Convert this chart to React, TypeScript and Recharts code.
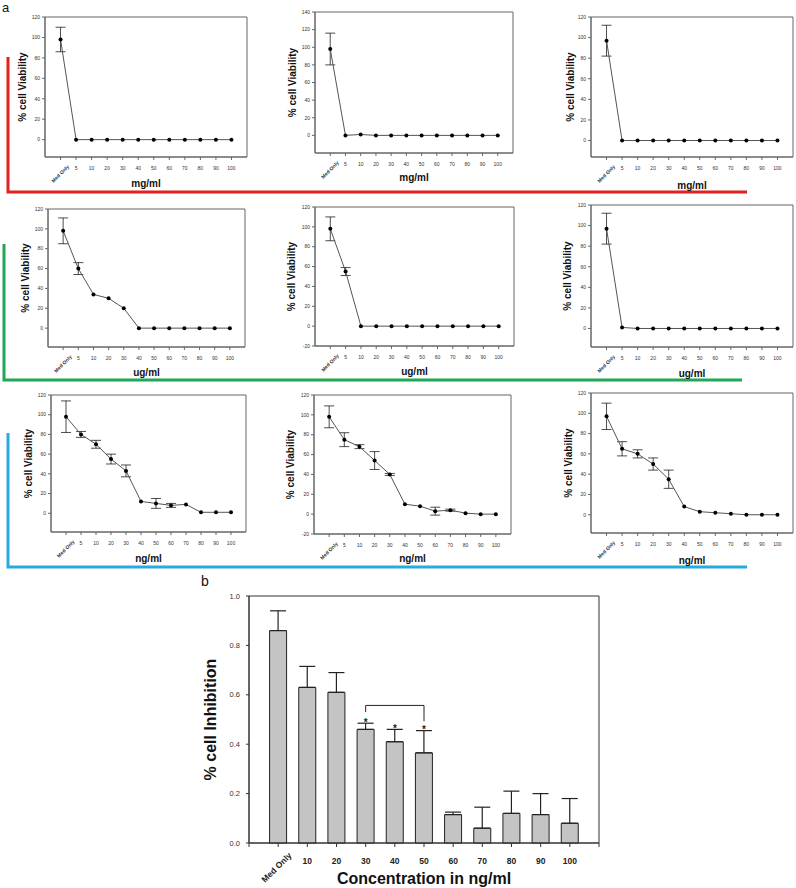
import { ComposedChart, LineChart, Line, Bar, XAxis, YAxis, ErrorBar, ReferenceArea, ReferenceLine, ReferenceDot, Label } from "recharts";

// ---- panel a: % cell viability, 12 concentrations each ----
const lineCats = ["Med Only", "5", "10", "20", "30", "40", "50", "60", "70", "80", "90", "100"];

const mg1Vals = [98, 0, 0, 0, 0, 0, 0, 0, 0, 0, 0, 0];
const mg1Err = [12, 0, 0, 0, 0, 0, 0, 0, 0, 0, 0, 0];
const mg2Vals = [98, 0, 1, 0, 0, 0, 0, 0, 0, 0, 0, 0];
const mg2Err = [18, 0, 0, 0, 0, 0, 0, 0, 0, 0, 0, 0];
const mg3Vals = [97, 0, 0, 0, 0, 0, 0, 0, 0, 0, 0, 0];
const mg3Err = [15, 0, 0, 0, 0, 0, 0, 0, 0, 0, 0, 0];

const ug1Vals = [98, 60, 34, 30, 20, 0, 0, 0, 0, 0, 0, 0];
const ug1Err = [13, 6, 0, 0, 0, 0, 0, 0, 0, 0, 0, 0];
const ug2Vals = [98, 55, 0, 0, 0, 0, 0, 0, 0, 0, 0, 0];
const ug2Err = [12, 4, 0, 0, 0, 0, 0, 0, 0, 0, 0, 0];
const ug3Vals = [97, 1, 0, 0, 0, 0, 0, 0, 0, 0, 0, 0];
const ug3Err = [15, 0, 0, 0, 0, 0, 0, 0, 0, 0, 0, 0];

const ng1Vals = [98, 80, 70, 55, 43, 12, 10, 8, 9, 1, 1, 1];
const ng1Err = [16, 3, 4, 5, 6, 0, 5, 2, 0, 0, 0, 0];
const ng2Vals = [98, 75, 68, 54, 40, 10, 8, 3, 4, 1, 0, 0];
const ng2Err = [11, 7, 2, 9, 1, 0, 0, 4, 1, 0, 0, 0];
const ng3Vals = [97, 65, 60, 50, 35, 8, 3, 2, 1, 0, 0, 0];
const ng3Err = [13, 7, 4, 6, 9, 0, 0, 0, 0, 0, 0, 0];

const ticks120 = [0, 20, 40, 60, 80, 100, 120];
const ticks140 = [0, 20, 40, 60, 80, 100, 120, 140];
const ticksNeg = [-20, 0, 20, 40, 60, 80, 100, 120];

// ---- panel b: % cell inhibition ----
const barCats = ["Med Only", "10", "20", "30", "40", "50", "60", "70", "80", "90", "100"];
const barVals = [0.86, 0.63, 0.61, 0.46, 0.41, 0.365, 0.115, 0.06, 0.12, 0.115, 0.08];
const barErr = [0.08, 0.085, 0.08, 0.025, 0.05, 0.09, 0.01, 0.085, 0.09, 0.085, 0.1];
const starIdx = [3, 4, 5];
const bracket = { from: 3, to: 5, top: 0.557, leftEnd: 0.53, rightEnd: 0.493 };

type Panel = {
  vals: number[];
  errs: number[];
  unit: string;
  yMin: number;
  yMax: number;
  yTicks: number[];
  // frame box and label placement
  L: number; T: number; R: number; B: number;
  labX: number; labY: number;
};

const panels: Panel[] = [
  { vals: mg1Vals, errs: mg1Err, unit: "mg/ml", yMin: -17, yMax: 120, yTicks: ticks120, L: 45, T: 17, R: 247, B: 157, labX: 22, labY: 183 },
  { vals: mg2Vals, errs: mg2Err, unit: "mg/ml", yMin: -20, yMax: 140, yTicks: ticks140, L: 315, T: 12, R: 513, B: 153, labX: 292, labY: 177 },
  { vals: mg3Vals, errs: mg3Err, unit: "mg/ml", yMin: -16, yMax: 120, yTicks: ticks120, L: 591, T: 17, R: 793, B: 157, labX: 570, labY: 185 },
  { vals: ug1Vals, errs: ug1Err, unit: "ug/ml", yMin: -19, yMax: 120, yTicks: ticks120, L: 48, T: 209, R: 245, B: 347, labX: 25, labY: 372 },
  { vals: ug2Vals, errs: ug2Err, unit: "ug/ml", yMin: -20, yMax: 120, yTicks: ticksNeg, L: 315, T: 207, R: 514, B: 346, labX: 291, labY: 371 },
  { vals: ug3Vals, errs: ug3Err, unit: "ug/ml", yMin: -18, yMax: 120, yTicks: ticks120, L: 591, T: 205, R: 793, B: 347, labX: 567, labY: 373 },
  { vals: ng1Vals, errs: ng1Err, unit: "ng/ml", yMin: -19, yMax: 120, yTicks: ticks120, L: 51, T: 395, R: 246, B: 532, labX: 28, labY: 558 },
  { vals: ng2Vals, errs: ng2Err, unit: "ng/ml", yMin: -20, yMax: 120, yTicks: ticksNeg, L: 314, T: 395, R: 511, B: 534, labX: 290, labY: 558 },
  { vals: ng3Vals, errs: ng3Err, unit: "ng/ml", yMin: -18, yMax: 120, yTicks: ticks120, L: 591, T: 393, R: 793, B: 533, labX: 568, labY: 560 },
];

const lineIdx = lineCats.map((_, i) => i);
const FONT = "'Liberation Sans', Arial, sans-serif";

function LineTick(props: any) {
  const { x, y, payload } = props;
  const i = payload.value;
  if (i === 0) {
    const ax = x + 9;
    const ay = y + 5;
    return (
      <text x={ax} y={ay} textAnchor="end" fontSize={5} fontWeight="bold" fill="#333" fontFamily={FONT} transform={`rotate(-45 ${ax} ${ay})`}>
        {lineCats[i]}
      </text>
    );
  }
  return (
    <text x={x} y={y + 8} textAnchor="middle" fontSize={5} fill="#333" fontFamily={FONT}>
      {lineCats[i]}
    </text>
  );
}

function ViabilityPanel({ p }: { p: Panel }) {
  const left = p.labX - 8;
  const top = p.T - 4;
  const W = p.L - left;
  const xH = p.labY + 3.5 - p.B;
  const width = p.R - left + 4;
  const height = p.labY + 3.5 - top + 3;
  const data = p.vals.map((v, i) => ({ i, v, e: p.errs[i] }));
  return (
    <div style={{ position: "absolute", left, top }}>
      <LineChart width={width} height={height} data={data} margin={{ top: 4, right: 4, left: 0, bottom: 3 }}>
        <ReferenceArea x1={-1} x2={12} y1={p.yMin} y2={p.yMax} fill="none" stroke="#666" strokeWidth={1} ifOverflow="visible" />
        <XAxis
          dataKey="i"
          type="number"
          domain={[-1, 12]}
          ticks={lineIdx}
          interval={0}
          tick={<LineTick />}
          tickSize={3}
          height={xH}
          axisLine={{ stroke: "#666" }}
          tickLine={{ stroke: "#666" }}
        >
          <Label value={p.unit} position="insideBottom" offset={0} style={{ fontSize: 10, fontWeight: "bold", fill: "#111", fontFamily: FONT }} />
        </XAxis>
        <YAxis
          type="number"
          domain={[p.yMin, p.yMax]}
          ticks={p.yTicks}
          interval={0}
          width={W}
          tickSize={3}
          tickMargin={2}
          tick={{ fontSize: 5, fill: "#333", fontFamily: FONT }}
          axisLine={{ stroke: "#666" }}
          tickLine={{ stroke: "#666" }}
        >
          <Label value="% cell Viability" angle={-90} position="insideLeft" offset={8} style={{ fontSize: 10, fontWeight: "bold", fill: "#111", textAnchor: "middle", fontFamily: FONT }} />
        </YAxis>
        <Line
          dataKey="v"
          stroke="#555"
          strokeWidth={1}
          dot={{ r: 2, fill: "#000", stroke: "#000", strokeWidth: 0 }}
          isAnimationActive={false}
        >
          <ErrorBar dataKey="e" width={5} stroke="#000" strokeWidth={0.7} />
        </Line>
      </LineChart>
    </div>
  );
}

function BarTick(props: any) {
  const { x, y, payload } = props;
  const i = payload.value;
  if (i < 0 || i >= barCats.length) return <g />;
  if (i === 0) {
    const ax = x + 14;
    const ay = y + 7;
    return (
      <text x={ax} y={ay} textAnchor="end" fontSize={8.5} fontWeight="bold" fill="#222" fontFamily={FONT} transform={`rotate(-45 ${ax} ${ay})`}>
        {barCats[i]}
      </text>
    );
  }
  return (
    <text x={x} y={y + 14.5} textAnchor="middle" fontSize={8.5} fontWeight="bold" fill="#222" fontFamily={FONT}>
      {barCats[i]}
    </text>
  );
}

function Star(props: any) {
  const { cx, cy } = props;
  return (
    <text x={cx} y={cy + 6} textAnchor="middle" fontSize={10} fontWeight="bold" fill="#222" fontFamily={FONT}>
      *
    </text>
  );
}

function InhibitionChart() {
  const data = barCats.map((c, i) => ({ i, v: barVals[i], e: [0, barErr[i]] }));
  const barTicks = [-1, ...barCats.map((_, i) => i), barCats.length];
  return (
    <div style={{ position: "absolute", left: 190, top: 586 }}>
      <ComposedChart width={414} height={302} data={data} margin={{ top: 10, right: 5, left: 0, bottom: 3 }}>
        <ReferenceArea x1={-1} x2={11} y1={0} y2={1} fill="none" stroke="#333" strokeWidth={1} ifOverflow="visible" />
        <XAxis
          dataKey="i"
          type="number"
          domain={[-1, 11]}
          ticks={barTicks}
          interval={0}
          tick={<BarTick />}
          tickSize={4}
          height={42}
          axisLine={{ stroke: "#333" }}
          tickLine={{ stroke: "#333" }}
        >
          <Label value="Concentration in ng/ml" position="insideBottom" offset={1.5} style={{ fontSize: 16, fontWeight: "bold", fill: "#111", fontFamily: FONT }} />
        </XAxis>
        <YAxis
          type="number"
          domain={[0, 1]}
          ticks={[0, 0.2, 0.4, 0.6, 0.8, 1]}
          interval={0}
          width={59}
          tickSize={3}
          tickMargin={6}
          tickFormatter={(v: number) => v.toFixed(1)}
          tick={{ fontSize: 7.5, fill: "#333", fontFamily: FONT }}
          axisLine={{ stroke: "#333" }}
          tickLine={{ stroke: "#333" }}
        >
          <Label value="% cell Inhibition" angle={-90} position="insideLeft" offset={20} style={{ fontSize: 16, fontWeight: "bold", fill: "#111", textAnchor: "middle", fontFamily: FONT }} />
        </YAxis>
        <Bar dataKey="v" barSize={17} fill="#c4c4c4" stroke="#222" strokeWidth={1} isAnimationActive={false}>
          <ErrorBar dataKey="e" direction="y" width={8} stroke="#222" strokeWidth={1.2} />
        </Bar>
        <ReferenceLine segment={[{ x: bracket.from, y: bracket.top }, { x: bracket.to, y: bracket.top }]} stroke="#222" strokeWidth={1} />
        <ReferenceLine segment={[{ x: bracket.from, y: bracket.leftEnd }, { x: bracket.from, y: bracket.top }]} stroke="#222" strokeWidth={1} />
        <ReferenceLine segment={[{ x: bracket.to, y: bracket.rightEnd }, { x: bracket.to, y: bracket.top }]} stroke="#222" strokeWidth={1} />
        {starIdx.map((i) => (
          <ReferenceDot key={i} x={i} y={barVals[i] + barErr[i] + 0.015} r={0} shape={<Star />} />
        ))}
      </ComposedChart>
    </div>
  );
}

export default function App() {
  return (
    <div style={{ position: "absolute", left: 0, top: 0, width: 796, height: 888, background: "#fff", overflow: "hidden" }}>
      <svg width={796} height={888} style={{ position: "absolute", left: 0, top: 0 }}>
        <text x={2} y={12} fontSize={13} fill="#111" fontFamily={FONT}>a</text>
        <text x={201} y={586} fontSize={14} fill="#111" fontFamily={FONT}>b</text>
        <polyline points="8,57 8,192 747,192" fill="none" stroke="#e3201b" strokeWidth={3} />
        <polyline points="4,244 4,380 742,380" fill="none" stroke="#1fa855" strokeWidth={3} />
        <polyline points="8,433 8,567 747,567" fill="none" stroke="#2aa9df" strokeWidth={3} />
      </svg>
      {panels.map((p, k) => (
        <ViabilityPanel key={k} p={p} />
      ))}
      <InhibitionChart />
    </div>
  );
}
